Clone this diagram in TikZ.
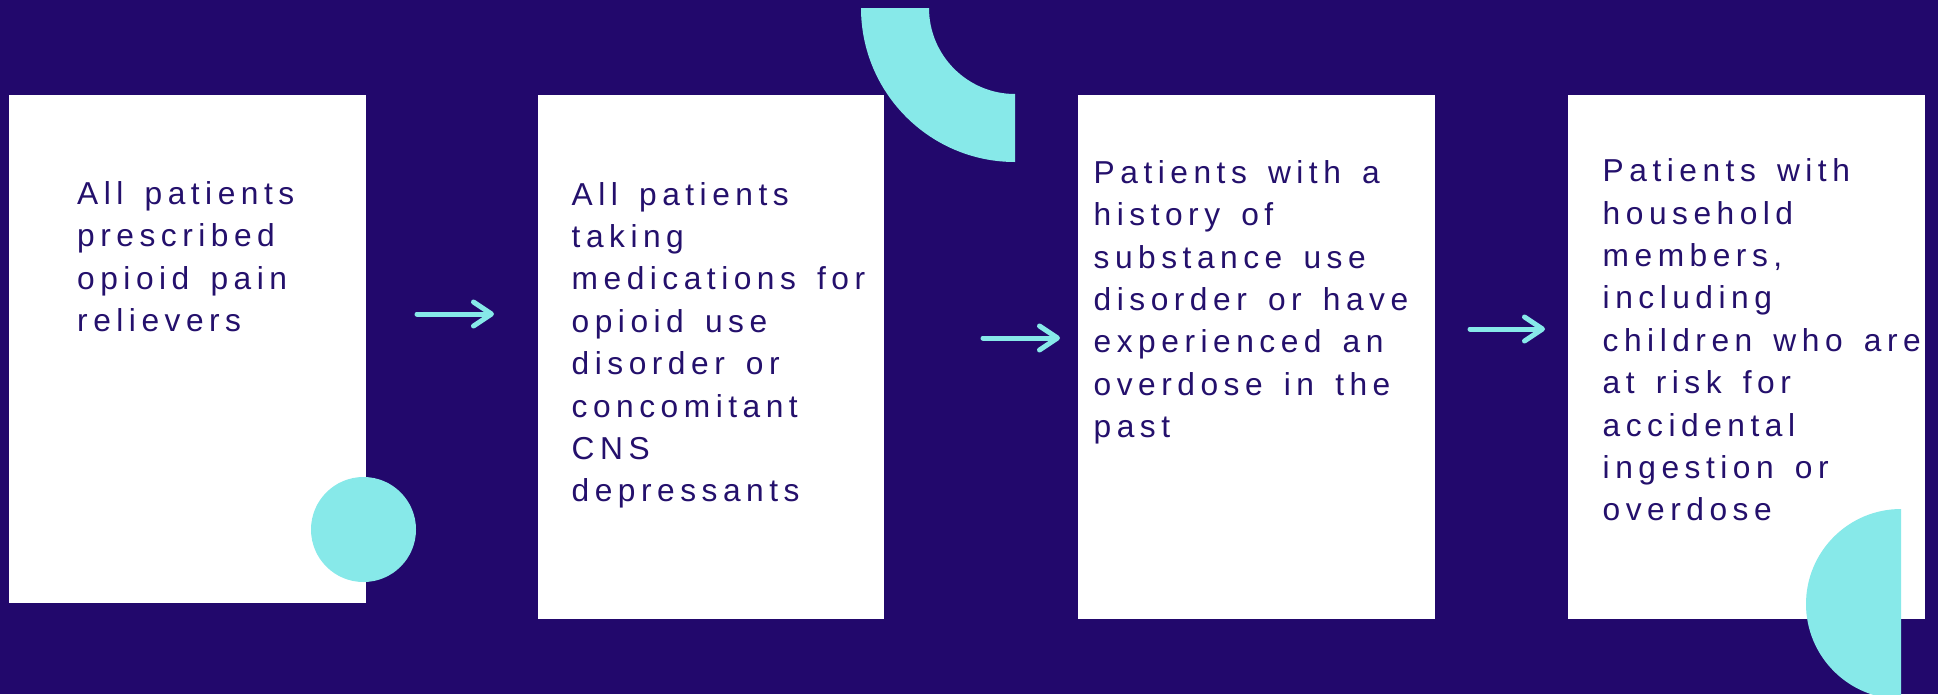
\documentclass[tikz,border=0pt]{standalone}
\usepackage{fontspec}
\usetikzlibrary{arrows.meta}
\newfontfamily\cardfont{Liberation Sans}[LetterSpace=17.4, WordSpace=1.48]
\definecolor{deep}{HTML}{22086C}
\definecolor{teal}{HTML}{87E9E9}
\definecolor{ink}{HTML}{24106C}
\tikzset{
  card/.style={fill=white, draw=none},
  deco/.style={fill=teal, draw=none},
  cardtext/.style={anchor=base west, inner sep=0pt, text=ink},
  flow/.style={draw=teal, line width=5pt, line cap=round,
    -{Straight Barb[length=18pt, width=24pt, line cap=round, line join=round]}}
}
\newcommand{\cardlines}[1]{\parbox[t]{420pt}{\cardfont\fontsize{31.7}{42.4}\selectfont\raggedright #1}}
\begin{document}
\begin{tikzpicture}[x=1pt, y=-1pt]
  \useasboundingbox (0,0) rectangle (1938,694);
  \clip (0,0) rectangle (1938,694);
  \fill[deep] (0,0) rectangle (1938,694);

  % four white cards
  \fill[card] (9,95) rectangle (366,603);
  \fill[card] (538,95) rectangle (884,619);
  \fill[card] (1078,95) rectangle (1435,619);
  \fill[card] (1568,95) rectangle (1925,619);

  % decorative shapes
  \fill[deco] (861,8) arc[start angle=180, end angle=270, radius=154pt]
     -- (1015,94) arc[start angle=270, end angle=180, radius=86pt] -- cycle;
  \fill[deco] (363.5,529.5) circle[radius=52.5pt];
  \fill[deco] (1901,509) arc[start angle=90, end angle=270, radius=95pt] -- cycle;

  % card texts
  \node[cardtext] (t1) at (77,204.3) {\cardlines{All patients\\prescribed\\opioid pain\\relievers}};
  \node[cardtext] (t2) at (571.5,205) {\cardlines{All patients\\taking\\medications for\\opioid use\\disorder or\\concomitant\\CNS\\depressants}};
  \node[cardtext] (t3) at (1093.5,183.3) {\cardlines{Patients with a\\history of\\substance use\\disorder or have\\experienced an\\overdose in the\\past}};
  \node[cardtext] (t4) at (1602.5,181.7) {\cardlines{Patients with\\household\\members,\\including\\children who are\\at risk for\\accidental\\ingestion or\\overdose}};

  % arrows between cards
  \coordinate (a1s) at (417,314);  \coordinate (a1e) at (494,314);
  \coordinate (a2s) at (983,338);  \coordinate (a2e) at (1060,338);
  \coordinate (a3s) at (1470,329); \coordinate (a3e) at (1545,329);
  \draw[flow] (a1s) -- (a1e);
  \draw[flow] (a2s) -- (a2e);
  \draw[flow] (a3s) -- (a3e);
\end{tikzpicture}
\end{document}
